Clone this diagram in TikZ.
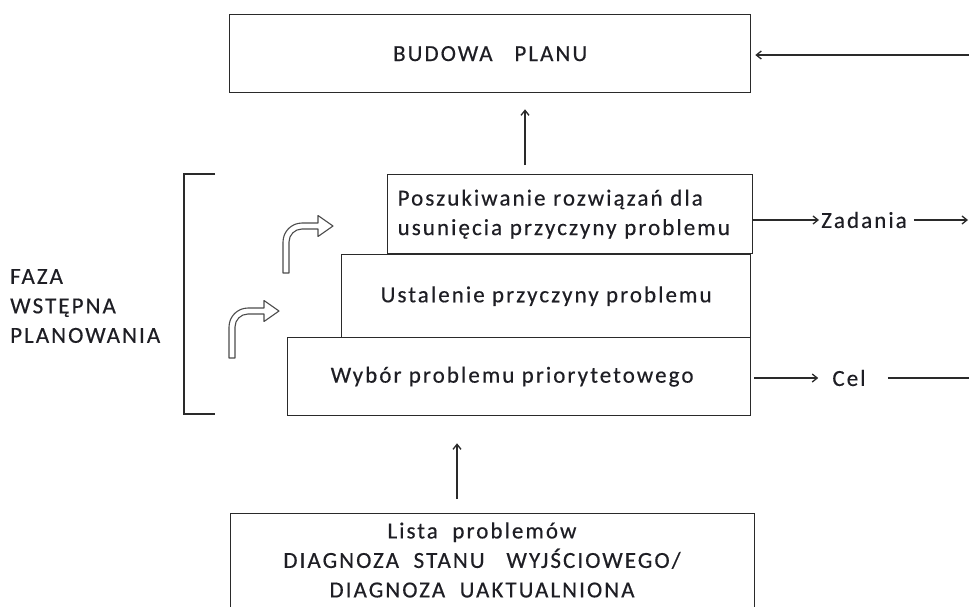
\documentclass[tikz,border=0pt]{standalone}
\usepackage{fontspec}
\setmainfont{Carlito}[LetterSpace=9, FakeBold=0.4]
\usetikzlibrary{arrows.meta}
\definecolor{ink}{HTML}{1E1E24}
\definecolor{edge}{HTML}{2A2A2A}
\tikzset{
  box/.style={draw=edge, line width=1.3pt, fill=white, inner sep=0pt, anchor=north west, text=ink},
  lbl/.style={text=ink, inner sep=0pt},
  conn/.style={draw=edge, line width=1.2pt},
  arr/.style={conn, -{Straight Barb[length=5pt,width=8pt,line width=1.3pt]}},
  bentarrow/.pic={
    \draw[draw=black!70, fill=white, line width=1.1pt, line join=round]
      (-3,0) -- (-3,-31) .. controls (-3,-41.5) and (5.5,-50) .. (16,-50)
      -- (32,-50) -- (32,-57.5) -- (47,-47) -- (32,-36.5) -- (32,-44) -- (16,-44)
      .. controls (8.8,-44) and (3,-38.2) .. (3,-31) -- (3,0) -- cycle;
  }
}
\begin{document}
\begin{tikzpicture}[x=1pt, y=-1pt, font=\fontsize{23}{29.5}\selectfont]
\useasboundingbox (0,0) rectangle (969,606);
\clip (0,0) rectangle (969,606);
\fill[white] (0,0) rectangle (969,606);

% top box
\node[box, minimum width=521pt, minimum height=78pt] (top) at (229,14) {BUDOWA\ \ \ PLANU};

% step boxes
\node[box, minimum width=463pt, minimum height=78pt] (s1) at (287,337) {\hspace*{-14pt}Wybór problemu priorytetowego};
\node[box, minimum width=409pt, minimum height=83pt] (s2) at (341,254) {Ustalenie przyczyny problemu};
\node[box, minimum width=363pt, minimum height=79pt, align=left, text width=345pt, inner xsep=10pt] (s3) at (387,174) {Poszukiwanie rozwiązań dla\\usunięcia przyczyny problemu};

% bottom box
\node[box, minimum width=524pt, minimum height=120pt, anchor=north west] (bot) at (230,513) {};
\node[lbl, align=center] (bottxt) at (482,560) {Lista\ \ problemów\\DIAGNOZA\ \ STANU\ \ \ WYJŚCIOWEGO/\\DIAGNOZA\ \ UAKTUALNIONA};

% left label
\node[lbl, anchor=west, align=left] (faza) at (10,306) {FAZA\\WSTĘPNA\\PLANOWANIA};

% bracket
\coordinate (bt) at (215,174);
\coordinate (bb) at (215,414);
\draw[conn] (bt) -- (184,174) -- (184,414) -- (bb);

% bent arrows
\pic at (286,273) {bentarrow};
\pic at (232,358) {bentarrow};

% right side labels
\node[lbl] (zad) at (864,220) {Zadania};
\node[lbl] (cel) at (849,378) {Cel};

% connectors
\coordinate (fb) at (970,55);
\draw[arr, shorten >=4pt] (fb) -- (fb -| top.east);

\coordinate (u1) at (525,165);
\draw[arr, shorten >=16pt] (u1) -- (u1 |- top.south);

\coordinate (u2) at (457,499);
\draw[arr, shorten >=27pt] (u2) -- (u2 |- s1.south);

\coordinate (zr) at (968,220);
\draw[arr, shorten >=2pt] (s3.east |- zad) -- (zad.west);
\draw[arr, shorten <=7pt] (zad.east) -- (zr);

\coordinate (cr) at (972,378);
\draw[arr, shorten <=3pt, shorten >=14pt] (s1.east |- cel) -- (cel.west);
\draw[conn, shorten <=22pt] (cel.east) -- (cr);
\end{tikzpicture}
\end{document}
